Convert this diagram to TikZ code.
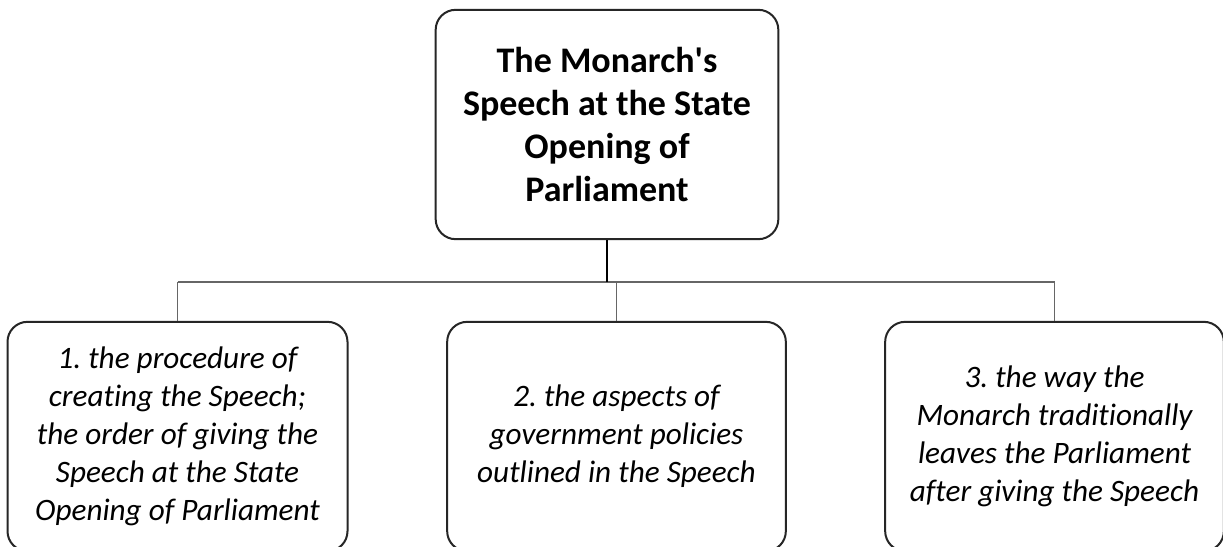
\documentclass[tikz,border=0pt]{standalone}
\usepackage{fontspec}
\setmainfont{Carlito}[Ligatures={NoCommon}]
\frenchspacing

\begin{document}
\begin{tikzpicture}[x=0.75pt,y=-0.75pt,
		mainbox/.style={draw=black!85, line width=1.5pt, rounded corners=15pt, fill=white, align=center,
			minimum width=257pt, minimum height=172pt, font=\fontsize{27}{32.3}\selectfont\bfseries},
		topicbox/.style={draw=black!85, line width=1.5pt, rounded corners=15pt, fill=white, align=center,
			minimum width=255pt, minimum height=172pt, font=\fontsize{23.4}{28.5}\selectfont\itshape},
		branch/.style={draw=black!60, line width=1pt}]
	\useasboundingbox (0,0) rectangle (1223,546);
	\clip (0,0) rectangle (1223,546);
	\fill[white] (0,0) rectangle (1223,546);
	% the Speech
	\node[mainbox] (speech) at (607,124.5) {The Monarch\textquotesingle s\\Speech at the State\\Opening of\\Parliament};
	% three topics
	\node[topicbox] (procedure) at (177.5,436.5) {1. the procedure of\\creating the Speech;\\the order of giving the\\Speech at the State\\Opening of Parliament};
	\node[topicbox, minimum width=254pt] (policies) at (616.5,436.5) {2. the aspects of\\government policies\\outlined in the Speech};
	\node[topicbox, minimum width=254pt] (leaving) at (1054.5,436.5) {3. the way the\\Monarch traditionally\\leaves the Parliament\\after giving the Speech};
	% connectors
	\coordinate (bus) at (607,282);
	\draw[branch] (procedure.north |- bus) -- (leaving.north |- bus);
	\draw[branch] (procedure.north) -- (procedure.north |- bus);
	\draw[branch] (policies.north) -- (policies.north |- bus);
	\draw[branch] (leaving.north) -- (leaving.north |- bus);
	\draw[black, line width=1.5pt] (speech.south) -- (bus);
\end{tikzpicture}
\end{document}
